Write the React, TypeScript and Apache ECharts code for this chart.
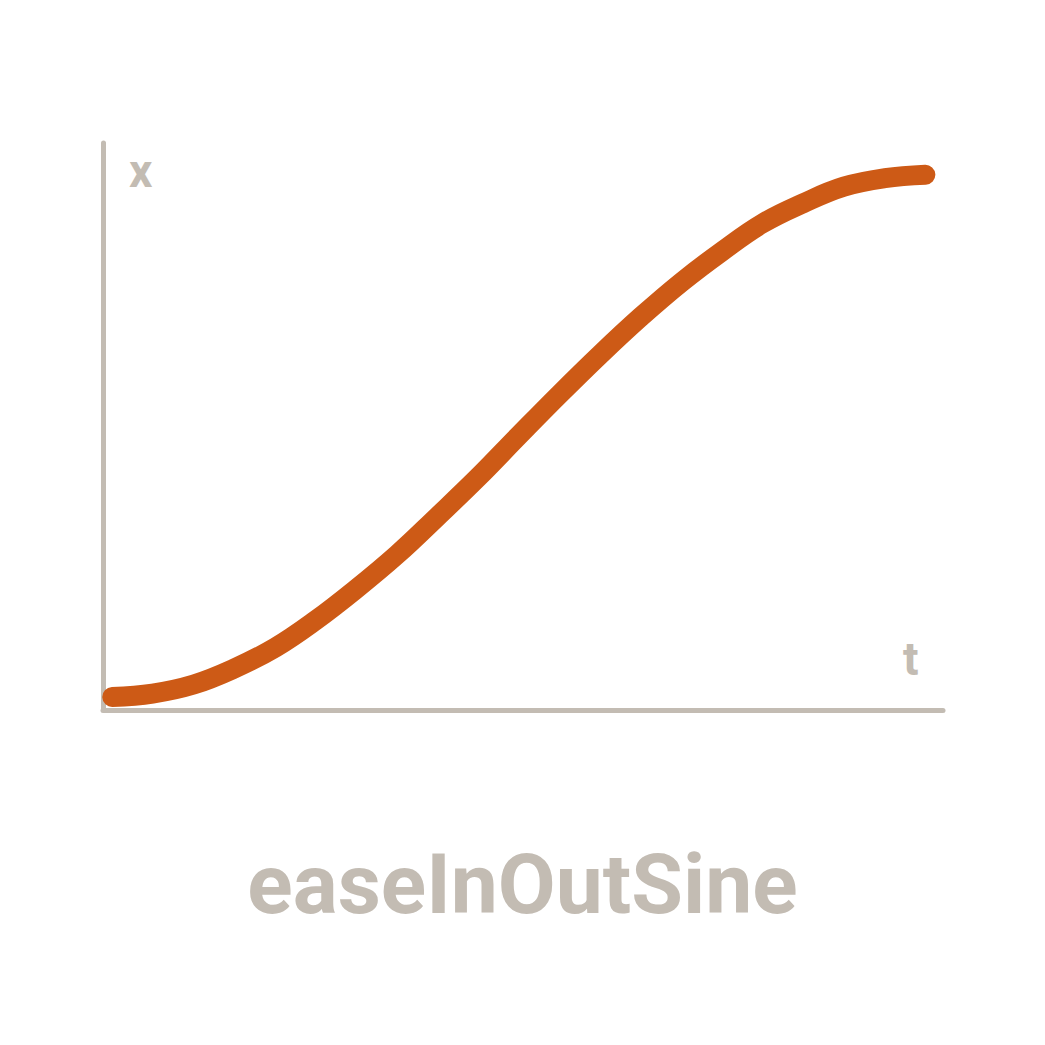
import React, { useEffect, useRef } from 'react';
import * as echarts from 'echarts';

// values (t on the x axis, x on the y axis)
const tValues = [0.011, 0.059, 0.108, 0.156, 0.205, 0.253, 0.301, 0.35, 0.398, 0.447, 0.495, 0.543, 0.592, 0.64, 0.689, 0.737, 0.785, 0.834, 0.882, 0.931, 0.979];
const xValues = [0.023, 0.029, 0.045, 0.073, 0.11, 0.158, 0.213, 0.274, 0.341, 0.411, 0.484, 0.556, 0.627, 0.693, 0.755, 0.809, 0.858, 0.894, 0.923, 0.938, 0.944];
const title = 'easeInOutSine';

const AXIS = '#c3bcb3';
const CURVE = '#cd5a16';

const App: React.FC = () => {
  const chartRef = useRef<HTMLDivElement | null>(null);

  useEffect(() => {
    document.body.style.margin = '0';
    if (!chartRef.current) return;
    const chart = echarts.init(chartRef.current, undefined, { renderer: 'svg' });
    chart.setOption({
      animation: false,
      backgroundColor: '#ffffff',
      grid: { left: 103, right: 102, top: 143, bottom: 335 },
      xAxis: {
        type: 'value', min: 0, max: 1,
        axisLine: { lineStyle: { color: AXIS, width: 5, cap: 'round' } },
        axisTick: { show: false }, axisLabel: { show: false }, splitLine: { show: false },
      },
      yAxis: {
        type: 'value', min: 0, max: 1,
        axisLine: { show: true, lineStyle: { color: AXIS, width: 5, cap: 'round' } },
        axisTick: { show: false }, axisLabel: { show: false }, splitLine: { show: false },
      },
      series: [{
        type: 'line',
        data: tValues.map((t, i) => [t, xValues[i]]),
        smooth: 0.4,
        symbol: 'none',
        lineStyle: { color: CURVE, width: 20, cap: 'round', join: 'round' },
      }],
      graphic: [
        { type: 'text', left: 129, top: 148, style: { text: 'x', fill: AXIS, font: 'bold 46px Roboto' } },
        { type: 'text', left: 903, top: 636, style: { text: 't', fill: AXIS, font: 'bold 46px Roboto' } },
        { type: 'text', left: 'center', top: 842, style: { text: title, fill: AXIS, font: 'bold 84px Roboto' } },
      ],
    });
    return () => chart.dispose();
  }, []);

  return <div ref={chartRef} style={{ width: 1045, height: 1045 }} />;
};

export default App;
